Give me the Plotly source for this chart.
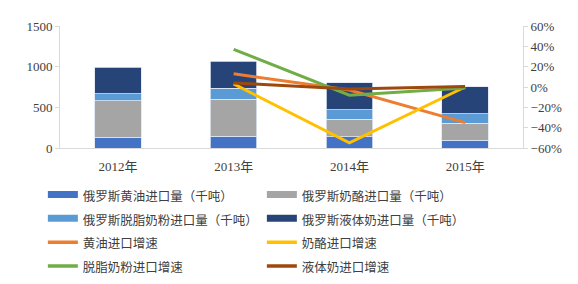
import plotly.graph_objects as go

years = ["2012年", "2013年", "2014年", "2015年"]
butter = [135, 144, 136, 95]
cheese = [443, 456, 218, 209]
skim = [90, 132, 119, 120]
liquid = [325, 333, 328, 328]

butter_g = [None, 13, -3, -35]
cheese_g = [None, 3, -55, 0]
skim_g = [None, 37, -8, -1]
liquid_g = [None, 4, -2, 0.5]

bar_names = ["俄罗斯黄油进口量（千吨）", "俄罗斯奶酪进口量（千吨）",
             "俄罗斯脱脂奶粉进口量（千吨）", "俄罗斯液体奶进口量（千吨）"]
bar_colors = ["#4472C4", "#A5A5A5", "#5B9BD5", "#264478"]
line_names = ["黄油进口增速", "奶酪进口增速", "脱脂奶粉进口增速", "液体奶进口增速"]
line_colors = ["#ED7D31", "#FFC000", "#70AD47", "#9E480E"]

def lbl(s):
    return '<span style="font-size:12.5px">' + s + '</span>'

fig = go.Figure()
for name, vals, col in zip(bar_names, [butter, cheese, skim, liquid], bar_colors):
    fig.add_trace(go.Bar(x=years, y=vals, name=name, showlegend=False,
                         marker=dict(color=col, line=dict(color="#DDE6F3", width=0.8)), width=0.4))
for name, vals, col in zip(line_names, [butter_g, cheese_g, skim_g, liquid_g], line_colors):
    fig.add_trace(go.Scatter(x=years, y=vals, name=name, mode="lines", showlegend=False,
                             line=dict(color=col, width=3), yaxis="y2"))

# legend entries (rectangular swatches for bars, lines for growth rates)
for name, col in zip(bar_names, bar_colors):
    fig.add_trace(go.Scatter(x=[None], y=[None], name=lbl(name), mode="lines",
                             line=dict(color=col, width=7)))
for name, col in zip(line_names, line_colors):
    fig.add_trace(go.Scatter(x=[None], y=[None], name=lbl(name), mode="lines",
                             line=dict(color=col, width=3.5), yaxis="y2"))

tick_font = dict(family="Liberation Serif, Noto Sans CJK SC", size=13, color="#404040")
fig.update_layout(
    width=578, height=284,
    barmode="stack",
    margin=dict(l=60, r=55, t=26, b=136, autoexpand=False),
    plot_bgcolor="white", paper_bgcolor="white",
    xaxis=dict(showline=True, linecolor="#D9D9D9", linewidth=1, ticks="", tickfont=tick_font, showgrid=False,
               ticklabelstandoff=6),
    yaxis=dict(range=[0, 1500], dtick=500, showline=True, linecolor="#D9D9D9", linewidth=1,
               ticks="outside", ticklen=4, tickcolor="#D9D9D9", showgrid=False, zeroline=False, tickfont=tick_font),
    yaxis2=dict(range=[-60, 60], dtick=20, overlaying="y", side="right", showline=True, linecolor="#D9D9D9",
                ticks="outside", ticklen=4, tickcolor="#D9D9D9", showgrid=False, zeroline=False,
                ticksuffix="%", tickfont=tick_font),
    legend=dict(orientation="h", x=-0.037, xanchor="left", y=-0.243, yanchor="top",
                entrywidth=174, entrywidthmode="pixels", traceorder="normal",
                font=dict(family="Noto Sans CJK SC", size=16, color="#404040"),
                itemwidth=30, tracegroupgap=0),
    showlegend=True,
)
fig.write_html("out.html")
